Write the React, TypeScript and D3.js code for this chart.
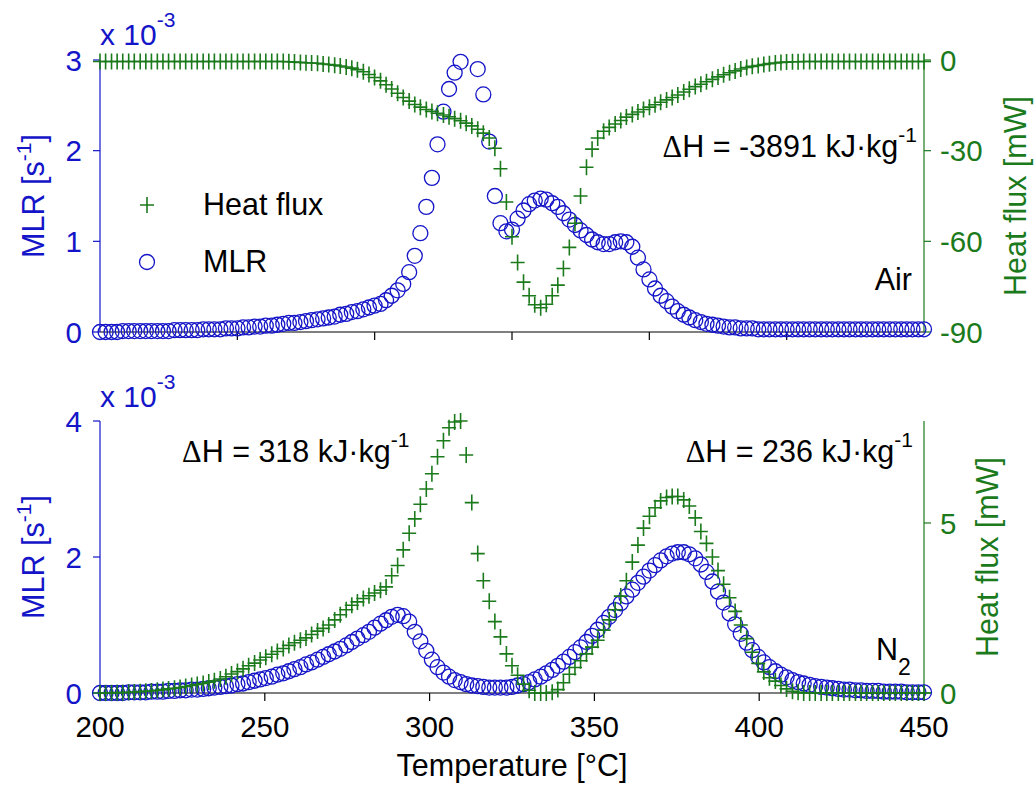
import React from "react";
import * as d3 from "d3";

// Temperature grid [°C] shared by both panels
const TEMP = [
  200.0, 201.7, 203.5, 205.2, 206.9, 208.7, 210.4, 212.2, 213.9, 215.6,
  217.4, 219.1, 220.8, 222.6, 224.3, 226.0, 227.8, 229.5, 231.3, 233.0,
  234.7, 236.5, 238.2, 239.9, 241.7, 243.4, 245.1, 246.9, 248.6, 250.3,
  252.1, 253.8, 255.6, 257.3, 259.0, 260.8, 262.5, 264.2, 266.0, 267.7,
  269.4, 271.2, 272.9, 274.7, 276.4, 278.1, 279.9, 281.6, 283.3, 285.1,
  286.8, 288.5, 290.3, 292.0, 293.8, 295.5, 297.2, 299.0, 300.7, 302.4,
  304.2, 305.9, 307.6, 309.4, 311.1, 312.8, 314.6, 316.3, 318.1, 319.8,
  321.5, 323.3, 325.0, 326.7, 328.5, 330.2, 331.9, 333.7, 335.4, 337.2,
  338.9, 340.6, 342.4, 344.1, 345.8, 347.6, 349.3, 351.0, 352.8, 354.5,
  356.3, 358.0, 359.7, 361.5, 363.2, 364.9, 366.7, 368.4, 370.1, 371.9,
  373.6, 375.3, 377.1, 378.8, 380.6, 382.3, 384.0, 385.8, 387.5, 389.2,
  391.0, 392.7, 394.4, 396.2, 397.9, 399.7, 401.4, 403.1, 404.9, 406.6,
  408.3, 410.1, 411.8, 413.5, 415.3, 417.0, 418.8, 420.5, 422.2, 424.0,
  425.7, 427.4, 429.2, 430.9, 432.6, 434.4, 436.1, 437.8, 439.6, 441.3,
  443.1, 444.8, 446.5, 448.3, 450.0,
];

// Air: mass loss rate [x1e-3 s^-1]
const MLR_AIR: (number | null)[] = [
  0.00, 0.00, 0.00, 0.00, 0.01, 0.01, 0.01, 0.01, 0.01, 0.01,
  0.01, 0.01, 0.01, 0.02, 0.02, 0.02, 0.02, 0.02, 0.03, 0.03,
  0.03, 0.03, 0.04, 0.04, 0.04, 0.05, 0.05, 0.06, 0.06, 0.07,
  0.07, 0.08, 0.09, 0.10, 0.10, 0.11, 0.12, 0.13, 0.14, 0.15,
  0.16, 0.17, 0.19, 0.20, 0.22, 0.23, 0.25, 0.27, 0.29, 0.31,
  0.35, 0.40, 0.46, 0.53, 0.66, 0.84, 1.09, 1.38, 1.70, 2.07,
  2.43, 2.68, 2.86, 2.98, null, null, 2.90, 2.62, 2.10, 1.50,
  1.20, 1.11, 1.13, 1.25, 1.34, 1.41, 1.45, 1.47, 1.46, 1.42,
  1.38, 1.31, 1.24, 1.18, 1.12, 1.07, 1.02, 0.99, 0.97, 0.97,
  0.99, 1.00, 0.99, 0.94, 0.82, 0.69, 0.58, 0.48, 0.40, 0.34,
  0.28, 0.23, 0.19, 0.16, 0.13, 0.11, 0.09, 0.08, 0.07, 0.06,
  0.05, 0.05, 0.04, 0.04, 0.04, 0.03, 0.03, 0.03, 0.03, 0.03,
  0.03, 0.03, 0.03, 0.03, 0.03, 0.03, 0.03, 0.03, 0.03, 0.03,
  0.03, 0.03, 0.03, 0.03, 0.03, 0.03, 0.03, 0.03, 0.03, 0.03,
  0.03, 0.03, 0.03, 0.03, 0.03,
];

// Air: heat flux [mW]
const HF_AIR = [
  -0.5, -0.5, -0.5, -0.5, -0.5, -0.5, -0.5, -0.5, -0.5, -0.5,
  -0.5, -0.5, -0.5, -0.5, -0.5, -0.5, -0.5, -0.5, -0.5, -0.5,
  -0.5, -0.5, -0.5, -0.5, -0.5, -0.5, -0.5, -0.5, -0.5, -0.5,
  -0.5, -0.5, -0.5, -0.6, -0.7, -0.8, -0.9, -1.0, -1.1, -1.3,
  -1.5, -1.7, -2.0, -2.3, -2.7, -3.2, -3.9, -4.8, -5.8, -6.9,
  -8.2, -9.6, -11.0, -12.4, -13.6, -14.7, -15.6, -16.4, -17.0, -17.6,
  -18.2, -18.8, -19.4, -20.1, -20.9, -21.8, -22.9, -24.2, -25.8, -29.2,
  -36.0, -47.0, -58.5, -67.0, -73.5, -78.0, -81.0, -82.0, -80.8, -78.0,
  -74.5, -69.0, -62.0, -54.0, -45.0, -35.5, -29.5, -25.8, -23.6, -22.3,
  -21.2, -20.0, -18.9, -18.0, -17.2, -16.4, -15.6, -14.8, -14.0, -13.2,
  -12.4, -11.6, -10.6, -9.7, -8.8, -8.0, -7.2, -6.4, -5.6, -4.9,
  -4.2, -3.6, -3.0, -2.5, -2.1, -1.8, -1.5, -1.2, -1.0, -0.8,
  -0.7, -0.6, -0.6, -0.5, -0.5, -0.5, -0.5, -0.5, -0.5, -0.5,
  -0.5, -0.5, -0.5, -0.5, -0.5, -0.5, -0.5, -0.5, -0.5, -0.5,
  -0.5, -0.5, -0.5, -0.5, -0.5,
];

// N2: mass loss rate [x1e-3 s^-1]
const MLR_N2 = [
  0.00, 0.00, 0.00, 0.00, 0.00, 0.01, 0.01, 0.01, 0.01, 0.02,
  0.02, 0.02, 0.03, 0.03, 0.04, 0.04, 0.05, 0.05, 0.06, 0.07,
  0.08, 0.09, 0.10, 0.11, 0.13, 0.14, 0.16, 0.18, 0.20, 0.22,
  0.24, 0.27, 0.29, 0.32, 0.35, 0.38, 0.42, 0.45, 0.49, 0.53,
  0.57, 0.61, 0.65, 0.70, 0.75, 0.80, 0.85, 0.90, 0.96, 1.02,
  1.07, 1.12, 1.15, 1.13, 1.05, 0.90, 0.76, 0.62, 0.49, 0.38,
  0.30, 0.24, 0.19, 0.16, 0.13, 0.11, 0.10, 0.09, 0.08, 0.08,
  0.08, 0.08, 0.09, 0.11, 0.13, 0.16, 0.20, 0.24, 0.29, 0.34,
  0.40, 0.46, 0.53, 0.60, 0.67, 0.75, 0.84, 0.93, 1.03, 1.12,
  1.22, 1.32, 1.42, 1.52, 1.62, 1.71, 1.80, 1.88, 1.95, 2.01,
  2.05, 2.07, 2.07, 2.04, 1.98, 1.89, 1.78, 1.64, 1.49, 1.33,
  1.17, 1.01, 0.87, 0.74, 0.63, 0.53, 0.45, 0.38, 0.32, 0.27,
  0.23, 0.19, 0.16, 0.14, 0.12, 0.10, 0.09, 0.08, 0.07, 0.06,
  0.05, 0.05, 0.04, 0.04, 0.03, 0.03, 0.03, 0.02, 0.02, 0.02,
  0.02, 0.01, 0.01, 0.01, 0.01,
];

// N2: heat flux [mW]
const HF_N2 = [
  0.00, 0.00, 0.00, 0.01, 0.01, 0.02, 0.03, 0.04, 0.05, 0.06,
  0.08, 0.10, 0.12, 0.14, 0.16, 0.19, 0.22, 0.25, 0.28, 0.32,
  0.36, 0.41, 0.48, 0.56, 0.63, 0.71, 0.80, 0.88, 0.97, 1.05,
  1.14, 1.22, 1.31, 1.40, 1.48, 1.55, 1.62, 1.72, 1.82, 1.90,
  2.00, 2.15, 2.30, 2.45, 2.58, 2.68, 2.78, 2.86, 2.94, 3.02,
  3.12, 3.45, 3.75, 4.21, 4.70, 5.12, 5.55, 6.00, 6.45, 6.95,
  7.42, 7.80, 7.97, 8.00, 7.00, 5.60, 4.10, 3.30, 2.70, 2.10,
  1.65, 1.15, 0.80, 0.52, 0.26, 0.08, 0.00, 0.00, 0.00, 0.02,
  0.10, 0.30, 0.55, 0.75, 0.95, 1.15, 1.35, 1.55, 1.85, 2.15,
  2.45, 2.85, 3.30, 3.85, 4.35, 4.85, 5.20, 5.45, 5.65, 5.75,
  5.78, 5.78, 5.68, 5.50, 5.15, 4.75, 4.40, 4.00, 3.60, 3.20,
  2.80, 2.40, 2.00, 1.60, 1.20, 0.87, 0.62, 0.45, 0.35, 0.22,
  0.12, 0.05, 0.02, 0.00, 0.00, 0.00, 0.00, 0.00, 0.00, 0.00,
  0.00, 0.00, 0.00, 0.00, 0.00, 0.00, 0.00, 0.00, 0.00, 0.00,
  0.00, 0.00, 0.00, 0.00, 0.00,
];

const X_TICKS = [200, 250, 300, 350, 400, 450];
const AIR_X_TICK_COUNT = 6; // unlabelled ticks of the upper panel
const AIR_MLR_TICKS = [0, 1, 2, 3];
const AIR_HF_TICKS = [0, -30, -60, -90];
const N2_MLR_TICKS = [0, 2, 4];
const N2_HF_TICKS = [0, 5];

const BLUE = "#1414c8";
const GREEN = "#1b7a1b";
const FONT = "'Liberation Sans', Arial, Helvetica, sans-serif";

const W = 1034;
const H = 785;
const L = 100;
const R = 924;
const AIR_TOP = 60;
const AIR_BOT = 332;
const N2_TOP = 421;
const N2_BOT = 693;

const TICK_FS = 29.5;
const LABEL_FS = 30.5;
const NOTE_FS = 30.5;

const x = d3.scaleLinear().domain([200, 450]).range([L, R]);
const yMlrAir = d3.scaleLinear().domain([0, 3]).range([AIR_BOT, AIR_TOP]);
const yHfAir = d3.scaleLinear().domain([-90, 0]).range([AIR_BOT, AIR_TOP]);
const yMlrN2 = d3.scaleLinear().domain([0, 4]).range([N2_BOT, N2_TOP]);
const yHfN2 = d3.scaleLinear().domain([0, 8]).range([N2_BOT, N2_TOP]);

const PLUS = "M-7,0H7M0,-8V8";
const TICK = 7;

function Circles({ vals, y }: { vals: (number | null)[]; y: d3.ScaleLinear<number, number> }) {
  return (
    <g fill="none" stroke={BLUE} strokeWidth={1.3}>
      {TEMP.map((t, i) =>
        vals[i] == null ? null : <circle key={i} cx={x(t)} cy={y(vals[i] as number)} r={7.5} />
      )}
    </g>
  );
}

function Pluses({ vals, y }: { vals: number[]; y: d3.ScaleLinear<number, number> }) {
  return (
    <g fill="none" stroke={GREEN} strokeWidth={1.6}>
      {TEMP.map((t, i) => (
        <path key={i} d={PLUS} transform={`translate(${x(t)},${y(vals[i])})`} />
      ))}
    </g>
  );
}

function LeftAxis({ y, ticks, top, bot }: { y: d3.ScaleLinear<number, number>; ticks: number[]; top: number; bot: number }) {
  return (
    <g>
      <line x1={L} x2={L} y1={top} y2={bot} stroke={BLUE} strokeWidth={1.2} />
      {ticks.map((v) => (
        <g key={v}>
          <line x1={L - TICK} x2={L} y1={y(v)} y2={y(v)} stroke={BLUE} strokeWidth={1.2} />
          <text x={L - 18} y={y(v)} dy="0.36em" textAnchor="end" fill={BLUE} fontSize={TICK_FS}>
            {v}
          </text>
        </g>
      ))}
    </g>
  );
}

function RightAxis({ y, ticks, top, bot }: { y: d3.ScaleLinear<number, number>; ticks: number[]; top: number; bot: number }) {
  return (
    <g>
      <line x1={R} x2={R} y1={top} y2={bot} stroke={GREEN} strokeWidth={1.2} />
      {ticks.map((v) => (
        <g key={v}>
          <line x1={R} x2={R + TICK} y1={y(v)} y2={y(v)} stroke={GREEN} strokeWidth={1.2} />
          <text x={R + 16} y={y(v)} dy="0.36em" textAnchor="start" fill={GREEN} fontSize={TICK_FS}>
            {v}
          </text>
        </g>
      ))}
    </g>
  );
}

function DeltaH({ value, x0, y0, anchor }: { value: string; x0: number; y0: number; anchor: "start" | "end" }) {
  return (
    <text x={x0} y={y0} textAnchor={anchor} fontSize={NOTE_FS} fill="#000">
      <tspan fontFamily="'Liberation Serif', 'DejaVu Serif', serif">Δ</tspan>
      <tspan>{`H = ${value} kJ·kg`}</tspan>
      <tspan dy={-15} fontSize={21}>-1</tspan>
    </text>
  );
}

export default function App() {
  const airXTicks = d3.range(1, AIR_X_TICK_COUNT).map((k) => 200 + (k * 250) / AIR_X_TICK_COUNT);
  return (
    <div style={{ position: "absolute", left: 0, top: 0 }}>
      <svg width={W} height={H} fontFamily={FONT} style={{ display: "block", background: "#fff" }}>
        {/* ---------- Upper panel (air) ---------- */}
        <line x1={L} x2={R} y1={AIR_BOT} y2={AIR_BOT} stroke="#000" strokeWidth={1.2} />
        {airXTicks.map((t) => (
          <line key={t} x1={x(t)} x2={x(t)} y1={AIR_BOT} y2={AIR_BOT + TICK + 1} stroke="#000" strokeWidth={1.2} />
        ))}
        <LeftAxis y={yMlrAir} ticks={AIR_MLR_TICKS} top={AIR_TOP} bot={AIR_BOT} />
        <RightAxis y={yHfAir} ticks={AIR_HF_TICKS} top={AIR_TOP} bot={AIR_BOT} />
        <text x={L} y={45} fill={BLUE} fontSize={30}>
          x 10<tspan dy={-18} fontSize={21}>-3</tspan>
        </text>
        <text transform={`translate(44,${(AIR_TOP + AIR_BOT) / 2}) rotate(-90)`} textAnchor="middle" fill={BLUE} fontSize={LABEL_FS}>
          MLR [s<tspan dy={-13} fontSize={21}>-1</tspan>
          <tspan dy={13}>]</tspan>
        </text>
        <text transform={`translate(1026,${(AIR_TOP + AIR_BOT) / 2}) rotate(-90)`} textAnchor="middle" fill={GREEN} fontSize={LABEL_FS}>
          Heat flux [mW]
        </text>
        <Circles vals={MLR_AIR} y={yMlrAir} />
        <Pluses vals={HF_AIR} y={yHfAir} />
        {/* legend */}
        <path d={PLUS} transform="translate(147,205)" stroke={GREEN} strokeWidth={1.6} fill="none" />
        <text x={203} y={215} fontSize={NOTE_FS} fill="#000">Heat flux</text>
        <circle cx={147} cy={262} r={7.5} fill="none" stroke={BLUE} strokeWidth={1.3} />
        <text x={203} y={272} fontSize={NOTE_FS} fill="#000">MLR</text>
        <DeltaH value="-3891" x0={917} y0={157} anchor="end" />
        <text x={912} y={290} textAnchor="end" fontSize={NOTE_FS} fill="#000">Air</text>

        {/* ---------- Lower panel (N2) ---------- */}
        <line x1={L} x2={R} y1={N2_BOT} y2={N2_BOT} stroke="#000" strokeWidth={1.2} />
        {X_TICKS.map((t) => (
          <g key={t}>
            <line x1={x(t)} x2={x(t)} y1={N2_BOT} y2={N2_BOT + TICK + 1} stroke="#000" strokeWidth={1.2} />
            <text x={x(t)} y={737} textAnchor="middle" fontSize={TICK_FS} fill="#000">{t}</text>
          </g>
        ))}
        <LeftAxis y={yMlrN2} ticks={N2_MLR_TICKS} top={N2_TOP} bot={N2_BOT} />
        <RightAxis y={yHfN2} ticks={N2_HF_TICKS} top={N2_TOP} bot={N2_BOT} />
        <text x={L} y={407} fill={BLUE} fontSize={30}>
          x 10<tspan dy={-18} fontSize={21}>-3</tspan>
        </text>
        <text transform={`translate(44,${(N2_TOP + N2_BOT) / 2}) rotate(-90)`} textAnchor="middle" fill={BLUE} fontSize={LABEL_FS}>
          MLR [s<tspan dy={-13} fontSize={21}>-1</tspan>
          <tspan dy={13}>]</tspan>
        </text>
        <text transform={`translate(998,${(N2_TOP + N2_BOT) / 2}) rotate(-90)`} textAnchor="middle" fill={GREEN} fontSize={LABEL_FS}>
          Heat flux [mW]
        </text>
        <Circles vals={MLR_N2} y={yMlrN2} />
        <Pluses vals={HF_N2} y={yHfN2} />
        <DeltaH value="318" x0={182} y0={462} anchor="start" />
        <DeltaH value="236" x0={913} y0={462} anchor="end" />
        <text x={876} y={660} fontSize={NOTE_FS} fill="#000">
          N<tspan dy={15} fontSize={23}>2</tspan>
        </text>
        <text x={512} y={776} textAnchor="middle" fontSize={LABEL_FS} fill="#000">Temperature [°C]</text>
      </svg>
    </div>
  );
}
